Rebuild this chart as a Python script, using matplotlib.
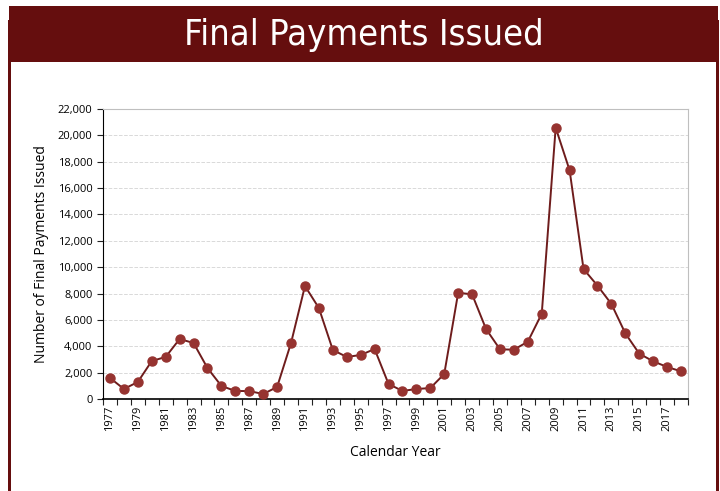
import matplotlib
matplotlib.use("Agg")
import matplotlib.pyplot as plt
from matplotlib.patches import Rectangle
from matplotlib.ticker import FuncFormatter, FixedLocator

# data
years = list(range(1977, 2019))
payments = [1600, 760, 1290, 2880, 3190, 4550, 4250, 2350, 990, 610,
            600, 380, 910, 4250, 8570, 6900, 3720, 3190, 3340, 3790,
            1140, 610, 760, 830, 1900, 8060, 7940, 5310, 3770, 3740,
            4350, 6470, 20580, 17350, 9860, 8600, 7210, 4980, 3440, 2860,
            2430, 2100]
year_labels = [str(y) if (y - 1977) % 2 == 0 else "" for y in years]

TITLE = "Final Payments Issued"
DARK_RED = "#650e0e"
LINE_COL = "#6e1c1c"
MARKER_COL = "#963330"

W, H = 720, 491
fig = plt.figure(figsize=(W / 100, H / 100), dpi=100)

def px_rect(x0, y0, x1, y1, color):
    fig.patches.append(Rectangle((x0 / W, 1 - y1 / H), (x1 - x0) / W, (y1 - y0) / H,
                                 transform=fig.transFigure, facecolor=color,
                                 edgecolor="none", zorder=0))

# side borders and header bar
px_rect(8, 20, 11, H, DARK_RED)
px_rect(716, 20, 719, H, DARK_RED)
px_rect(9, 6, 718, 62, DARK_RED)
fig.text(364 / W, 1 - 35 / H, TITLE, color="white", fontsize=26,
         family="DejaVu Sans", ha="center", va="center", fontstretch="condensed")

ax = fig.add_axes([103 / W, 1 - 399 / H, 585 / W, 290 / H])
x = list(range(len(years)))
ax.plot(x, payments, color=LINE_COL, lw=1.4, marker="o", markersize=6.5,
        markerfacecolor=MARKER_COL, markeredgecolor=MARKER_COL, zorder=3)

ax.set_xlim(-0.5, len(years) - 0.5)
ax.set_ylim(0, 22000)
ax.set_yticks(range(0, 22001, 2000))
ax.yaxis.set_major_formatter(FuncFormatter(lambda v, p: f"{int(v):,}"))
ax.set_xticks(x)
ax.set_xticklabels(year_labels, rotation=90, fontsize=8, family="Open Sans")
ax.xaxis.set_minor_locator(FixedLocator([i - 0.5 for i in range(len(years) + 1)]))
ax.tick_params(axis="x", which="major", length=0, pad=5)
ax.tick_params(axis="x", which="minor", length=4, width=0.8, color="#222222")
ax.tick_params(axis="y", length=4, width=0.8, labelsize=8, color="#222222")
for lab in ax.get_yticklabels():
    lab.set_family("Open Sans")

ax.grid(axis="y", color="#d9d9d9", linestyle="--", lw=0.7)
ax.set_axisbelow(True)
ax.spines["left"].set_color("black")
ax.spines["bottom"].set_color("black")
ax.spines["bottom"].set_linewidth(1.2)
ax.spines["top"].set_color("#bfbfbf")
ax.spines["right"].set_color("#bfbfbf")

ax.set_xlabel("Calendar Year", fontsize=10, family="Open Sans", labelpad=10)
ax.set_ylabel("Number of Final Payments Issued", fontsize=10, family="Open Sans", labelpad=6)

fig.savefig("out.png", dpi=100)
